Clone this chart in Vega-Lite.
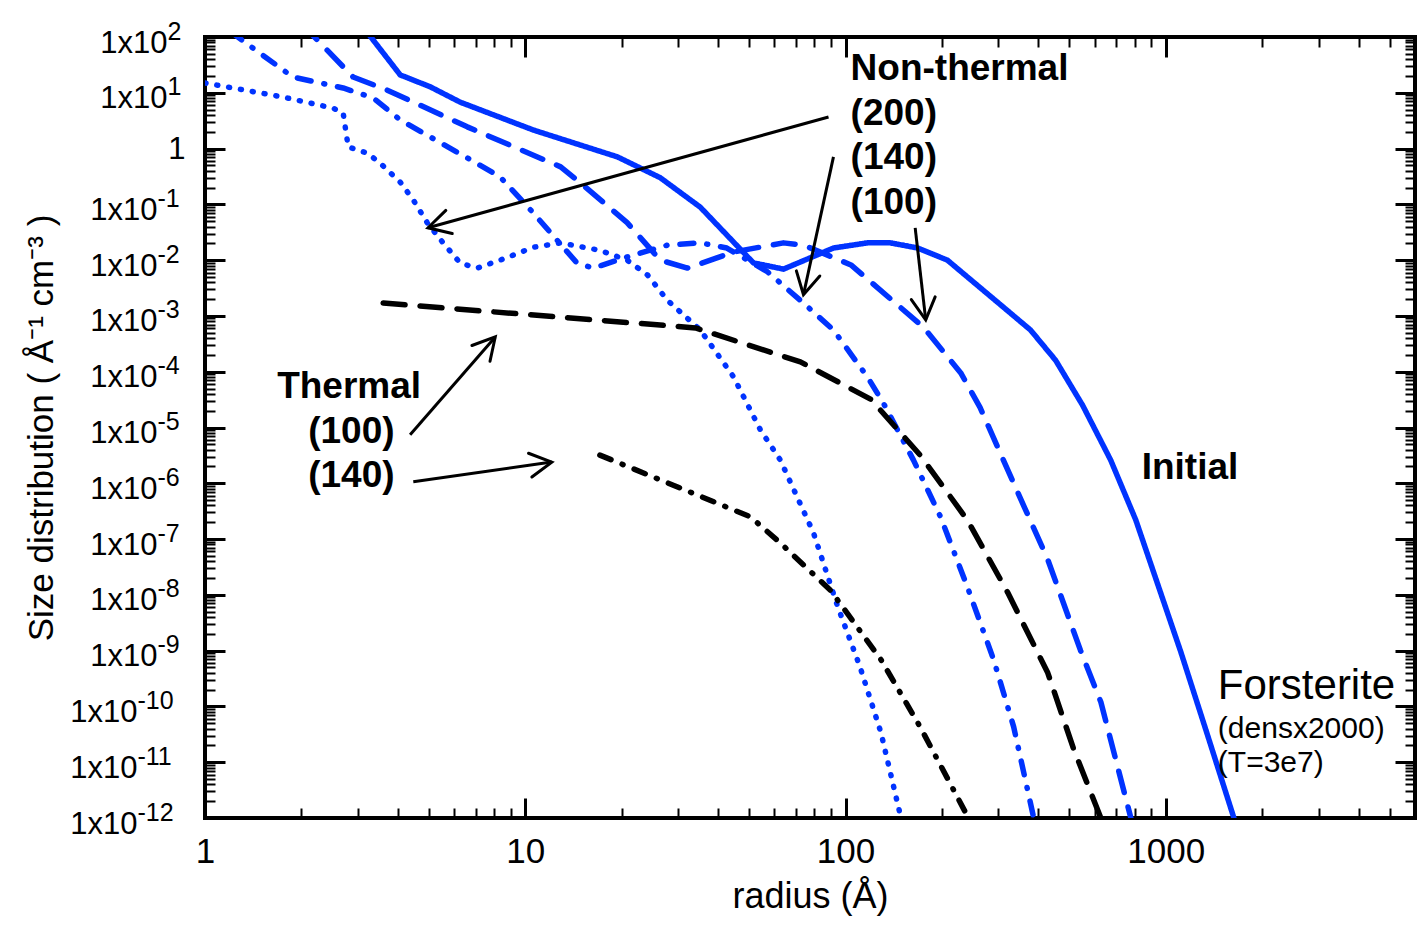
{
  "$schema": "https://vega.github.io/schema/vega-lite/v6.json",
  "autosize": {"type": "none"},
  "padding": {"left": 205, "top": 37, "right": 7, "bottom": 115},
  "width": 1210,
  "height": 781,
  "background": "white",
  "config": {
    "view": {"stroke": "black", "strokeWidth": 4},
    "font": "Liberation Sans",
    "axis": {"grid": false, "domain": false, "labelColor": "black", "titleColor": "black", "tickColor": "black", "labelFont": "Liberation Sans", "titleFont": "Liberation Sans", "titleFontWeight": "normal", "labelOverlap": false, "labelFlush": false}
  },
  "datasets": {
    "curves": [
      {"run": "initial", "radius": 3.0, "n": 200},
      {"run": "initial", "radius": 4.07, "n": 20.9},
      {"run": "initial", "radius": 5.05, "n": 12.8},
      {"run": "initial", "radius": 6.26, "n": 6.8},
      {"run": "initial", "radius": 10.6, "n": 2.15},
      {"run": "initial", "radius": 19.4, "n": 0.71},
      {"run": "initial", "radius": 26.4, "n": 0.30},
      {"run": "initial", "radius": 35.2, "n": 0.089},
      {"run": "initial", "radius": 51.6, "n": 0.0089},
      {"run": "initial", "radius": 64, "n": 0.0069},
      {"run": "initial", "radius": 91.7, "n": 0.0165},
      {"run": "initial", "radius": 117, "n": 0.0204},
      {"run": "initial", "radius": 138, "n": 0.0204},
      {"run": "initial", "radius": 168, "n": 0.0165},
      {"run": "initial", "radius": 208, "n": 0.010},
      {"run": "initial", "radius": 305, "n": 0.00158},
      {"run": "initial", "radius": 378, "n": 5.6e-4},
      {"run": "initial", "radius": 453, "n": 1.6e-4},
      {"run": "initial", "radius": 550, "n": 2.5e-5},
      {"run": "initial", "radius": 673, "n": 2.6e-6},
      {"run": "initial", "radius": 806, "n": 2.2e-7},
      {"run": "initial", "radius": 1114, "n": 9.5e-10},
      {"run": "initial", "radius": 1334, "n": 3.8e-11},
      {"run": "initial", "radius": 1632, "n": 1e-12},

      {"run": "nt100", "radius": 2.0, "n": 174},
      {"run": "nt100", "radius": 2.90, "n": 19.2},
      {"run": "nt100", "radius": 3.70, "n": 11.2},
      {"run": "nt100", "radius": 6.59, "n": 2.45},
      {"run": "nt100", "radius": 12.9, "n": 0.47},
      {"run": "nt100", "radius": 14.9, "n": 0.24},
      {"run": "nt100", "radius": 20.8, "n": 0.047},
      {"run": "nt100", "radius": 26.4, "n": 0.010},
      {"run": "nt100", "radius": 32.1, "n": 0.0072},
      {"run": "nt100", "radius": 44.7, "n": 0.014},
      {"run": "nt100", "radius": 64, "n": 0.0204},
      {"run": "nt100", "radius": 73.9, "n": 0.0186},
      {"run": "nt100", "radius": 104, "n": 0.0082},
      {"run": "nt100", "radius": 175, "n": 6.3e-4},
      {"run": "nt100", "radius": 229, "n": 9.5e-5},
      {"run": "nt100", "radius": 263, "n": 2.3e-5},
      {"run": "nt100", "radius": 335, "n": 1e-6},
      {"run": "nt100", "radius": 428, "n": 4.3e-8},
      {"run": "nt100", "radius": 542, "n": 1e-9},
      {"run": "nt100", "radius": 627, "n": 1.2e-10},
      {"run": "nt100", "radius": 778, "n": 1e-12},

      {"run": "nt140", "radius": 1.2, "n": 126},
      {"run": "nt140", "radius": 1.33, "n": 81},
      {"run": "nt140", "radius": 1.88, "n": 19.2},
      {"run": "nt140", "radius": 2.70, "n": 12.2},
      {"run": "nt140", "radius": 3.35, "n": 8.1},
      {"run": "nt140", "radius": 4.07, "n": 3.26},
      {"run": "nt140", "radius": 6.59, "n": 0.68},
      {"run": "nt140", "radius": 8.35, "n": 0.31},
      {"run": "nt140", "radius": 10.6, "n": 0.07},
      {"run": "nt140", "radius": 14.5, "n": 0.0089},
      {"run": "nt140", "radius": 16.3, "n": 0.0072},
      {"run": "nt140", "radius": 20.8, "n": 0.0114},
      {"run": "nt140", "radius": 27.8, "n": 0.0186},
      {"run": "nt140", "radius": 35.2, "n": 0.0204},
      {"run": "nt140", "radius": 42.6, "n": 0.0165},
      {"run": "nt140", "radius": 57, "n": 0.0062},
      {"run": "nt140", "radius": 73.9, "n": 0.0017},
      {"run": "nt140", "radius": 91.7, "n": 5.6e-4},
      {"run": "nt140", "radius": 117, "n": 8.1e-5},
      {"run": "nt140", "radius": 131, "n": 2.8e-5},
      {"run": "nt140", "radius": 163, "n": 2.6e-6},
      {"run": "nt140", "radius": 198, "n": 2.5e-7},
      {"run": "nt140", "radius": 240, "n": 1.4e-8},
      {"run": "nt140", "radius": 290, "n": 6.9e-10},
      {"run": "nt140", "radius": 335, "n": 4.3e-11},
      {"run": "nt140", "radius": 387, "n": 1e-12},

      {"run": "nt200", "radius": 1.0, "n": 15},
      {"run": "nt200", "radius": 1.22, "n": 12.2},
      {"run": "nt200", "radius": 1.75, "n": 8.4},
      {"run": "nt200", "radius": 2.51, "n": 5.3},
      {"run": "nt200", "radius": 2.70, "n": 4.35},
      {"run": "nt200", "radius": 2.80, "n": 1.07},
      {"run": "nt200", "radius": 3.21, "n": 0.83},
      {"run": "nt200", "radius": 3.52, "n": 0.55},
      {"run": "nt200", "radius": 4.07, "n": 0.25},
      {"run": "nt200", "radius": 4.47, "n": 0.12},
      {"run": "nt200", "radius": 4.94, "n": 0.047},
      {"run": "nt200", "radius": 5.54, "n": 0.0204},
      {"run": "nt200", "radius": 6.26, "n": 0.0089},
      {"run": "nt200", "radius": 7.08, "n": 0.0072},
      {"run": "nt200", "radius": 8.35, "n": 0.010},
      {"run": "nt200", "radius": 10.6, "n": 0.017},
      {"run": "nt200", "radius": 12.9, "n": 0.0204},
      {"run": "nt200", "radius": 17.1, "n": 0.015},
      {"run": "nt200", "radius": 20.8, "n": 0.010},
      {"run": "nt200", "radius": 24.1, "n": 0.0054},
      {"run": "nt200", "radius": 27.8, "n": 0.0019},
      {"run": "nt200", "radius": 35.2, "n": 5.6e-4},
      {"run": "nt200", "radius": 44.7, "n": 8.1e-5},
      {"run": "nt200", "radius": 54.2, "n": 9.1e-6},
      {"run": "nt200", "radius": 62.6, "n": 2.6e-6},
      {"run": "nt200", "radius": 79.4, "n": 1.3e-7},
      {"run": "nt200", "radius": 94.4, "n": 6.3e-9},
      {"run": "nt200", "radius": 111, "n": 5.1e-10},
      {"run": "nt200", "radius": 129, "n": 3.4e-11},
      {"run": "nt200", "radius": 149, "n": 1e-12},

      {"run": "th100", "radius": 3.60, "n": 1.7e-3},
      {"run": "th100", "radius": 34, "n": 6.1e-4},
      {"run": "th100", "radius": 72.3, "n": 1.5e-4},
      {"run": "th100", "radius": 120, "n": 3.2e-5},
      {"run": "th100", "radius": 171, "n": 3.2e-6},
      {"run": "th100", "radius": 240, "n": 2.2e-7},
      {"run": "th100", "radius": 321, "n": 1.1e-8},
      {"run": "th100", "radius": 428, "n": 4e-10},
      {"run": "th100", "radius": 516, "n": 1.7e-11},
      {"run": "th100", "radius": 627, "n": 1e-12},

      {"run": "th140", "radius": 17.1, "n": 3.2e-6},
      {"run": "th140", "radius": 50.5, "n": 2.5e-7},
      {"run": "th140", "radius": 62.6, "n": 8.5e-8},
      {"run": "th140", "radius": 89.8, "n": 1.2e-8},
      {"run": "th140", "radius": 129, "n": 6.9e-10},
      {"run": "th140", "radius": 171, "n": 4.3e-11},
      {"run": "th140", "radius": 242, "n": 1e-12}
    ],
    "arrows": [
      {"x1": 88.5, "y1": 3.68, "x2": 4.97, "y2": 0.038},
      {"x1": 91.7, "y1": 0.71, "x2": 73.9, "y2": 0.0024},
      {"x1": 165, "y1": 0.038, "x2": 178, "y2": 8.5e-4},
      {"x1": 4.37, "y1": 7.4e-6, "x2": 8.06, "y2": 4.2e-4},
      {"x1": 4.47, "y1": 1.07e-6, "x2": 12.1, "y2": 2.4e-6}
    ],
    "boldLabels": [
      {"text": "Non-thermal", "x": 103.7, "y": 26.7},
      {"text": "(200)", "x": 103.7, "y": 4.17},
      {"text": "(140)", "x": 103.7, "y": 0.679},
      {"text": "(100)", "x": 103.7, "y": 0.106},
      {"text": "Thermal", "x": 1.68, "y": 5.34e-5},
      {"text": "(100)", "x": 2.10, "y": 8.3e-6},
      {"text": "(140)", "x": 2.10, "y": 1.36e-6},
      {"text": "Initial", "x": 841, "y": 1.89e-6}
    ],
    "material": [
      {"text": "Forsterite", "x": 1454, "y": 2.34e-10}
    ],
    "notes": [
      {"text": "(densx2000)", "x": 1454, "y": 3.95e-11},
      {"text": "(T=3e7)", "x": 1454, "y": 9.8e-12}
    ]
  },
  "resolve": {"axis": {"x": "independent", "y": "independent"}},
  "layer": [
    {
      "data": {"name": "curves"},
      "mark": {"type": "line", "clip": true, "strokeWidth": 5.5, "strokeCap": "round", "strokeJoin": "round"},
      "encoding": {
        "x": {
          "field": "radius", "type": "quantitative",
          "scale": {"type": "log", "domain": [1, 6000], "nice": false},
          "axis": {"orient": "bottom", "values": [1, 10, 100, 1000], "format": "d", "ticks": false, "labelPadding": 16, "labelFontSize": 35, "title": "radius (Å)", "titleFontSize": 36, "titlePadding": 10}
        },
        "y": {
          "field": "n", "type": "quantitative",
          "scale": {"type": "log", "domain": [1e-12, 100], "nice": false},
          "axis": {
            "orient": "left",
            "values": [1e-12, 1e-11, 1e-10, 1e-9, 1e-8, 1e-7, 1e-6, 1e-5, 1e-4, 1e-3, 1e-2, 1e-1, 1, 10, 100],
            "ticks": false, "labelFontSize": 31, "labelAlign": "right", "labelBaseline": "middle",
            "labelExpr": "datum.value == 1 ? '1' : '1x10'",
            "labelPadding": {"condition": [{"test": "datum.value == 1", "value": 20}, {"test": "datum.value > 1", "value": 38}, {"test": "datum.value >= 1e-9", "value": 48}], "value": 68},
            "labelOffset": {"condition": {"test": "datum.value == 1", "value": 1}, "value": 6},
            "title": "Size distribution ( Å⁻¹ cm⁻³ )", "titleFontSize": 35, "titlePadding": 10
          }
        },
        "detail": {"field": "run"},
        "color": {
          "field": "run", "type": "nominal", "legend": null,
          "scale": {"domain": ["initial", "nt100", "nt140", "nt200", "th100", "th140"], "range": ["#0033ff", "#0033ff", "#0033ff", "#0033ff", "#000000", "#000000"]}
        },
        "strokeDash": {
          "field": "run", "type": "nominal", "legend": null,
          "scale": {"domain": ["initial", "nt100", "nt140", "nt200", "th100", "th140"], "range": [[1, 0], [22, 15], [14, 13, 1, 13], [1, 11], [22, 15], [12, 12, 1, 12]]}
        }
      }
    },
    {
      "data": {"name": "arrows"},
      "mark": {"type": "rule", "color": "black", "strokeWidth": 3, "clip": true},
      "encoding": {
        "x": {"field": "x1", "type": "quantitative", "axis": {"orient": "bottom", "values": [1, 10, 100, 1000], "labels": false, "tickSize": -20, "tickWidth": 3, "title": null}},
        "y": {"field": "y1", "type": "quantitative", "axis": {"orient": "left", "values": [1e-12, 1e-11, 1e-10, 1e-9, 1e-8, 1e-7, 1e-6, 1e-5, 1e-4, 1e-3, 1e-2, 1e-1, 1, 10, 100], "labels": false, "tickSize": -20, "tickWidth": 3, "title": null}},
        "x2": {"field": "x2"},
        "y2": {"field": "y2"}
      }
    },
    {
      "data": {"name": "arrows"},
      "transform": [
        {"calculate": "atan2(320.3 * log(datum.x2 / datum.x1) / LN10, 55.79 * log(datum.y2 / datum.y1) / LN10) * 180 / PI", "as": "heading"}
      ],
      "mark": {"type": "point", "shape": "M-0.55,1L0,0L0.55,1", "filled": false, "color": "black", "strokeWidth": 3, "opacity": 1, "size": 1900, "strokeJoin": "miter", "strokeCap": "round"},
      "encoding": {
        "x": {"field": "x2", "type": "quantitative", "axis": {"orient": "top", "values": [1, 10, 100, 1000], "labels": false, "tickSize": -20, "tickWidth": 3, "title": null}},
        "y": {"field": "y2", "type": "quantitative", "axis": {"orient": "right", "values": [1e-12, 1e-11, 1e-10, 1e-9, 1e-8, 1e-7, 1e-6, 1e-5, 1e-4, 1e-3, 1e-2, 1e-1, 1, 10, 100], "labels": false, "tickSize": -20, "tickWidth": 3, "title": null}},
        "angle": {"field": "heading", "type": "quantitative", "scale": null}
      }
    },
    {
      "data": {"name": "boldLabels"},
      "mark": {"type": "text", "align": "left", "baseline": "middle", "font": "Liberation Sans", "fontWeight": "bold", "fontSize": 37, "color": "black"},
      "encoding": {
        "x": {"field": "x", "type": "quantitative", "axis": {"orient": "bottom", "values": [2, 3, 4, 5, 6, 7, 8, 9, 20, 30, 40, 50, 60, 70, 80, 90, 200, 300, 400, 500, 600, 700, 800, 900, 2000, 3000, 4000, 5000], "labels": false, "tickSize": -10, "tickWidth": 2, "title": null}},
        "y": {"field": "y", "type": "quantitative", "axis": {"orient": "left", "values": [2e-12, 3e-12, 4e-12, 5e-12, 6e-12, 7e-12, 8e-12, 9e-12, 2e-11, 3e-11, 4e-11, 5e-11, 6e-11, 7e-11, 8e-11, 9e-11, 2e-10, 3e-10, 4e-10, 5e-10, 6e-10, 7e-10, 8e-10, 9e-10, 2e-9, 3e-9, 4e-9, 5e-9, 6e-9, 7e-9, 8e-9, 9e-9, 2e-8, 3e-8, 4e-8, 5e-8, 6e-8, 7e-8, 8e-8, 9e-8, 2e-7, 3e-7, 4e-7, 5e-7, 6e-7, 7e-7, 8e-7, 9e-7, 2e-6, 3e-6, 4e-6, 5e-6, 6e-6, 7e-6, 8e-6, 9e-6, 2e-5, 3e-5, 4e-5, 5e-5, 6e-5, 7e-5, 8e-5, 9e-5, 2e-4, 3e-4, 4e-4, 5e-4, 6e-4, 7e-4, 8e-4, 9e-4, 2e-3, 3e-3, 4e-3, 5e-3, 6e-3, 7e-3, 8e-3, 9e-3, 2e-2, 3e-2, 4e-2, 5e-2, 6e-2, 7e-2, 8e-2, 9e-2, 0.2, 0.3, 0.4, 0.5, 0.6, 0.7, 0.8, 0.9, 2, 3, 4, 5, 6, 7, 8, 9, 20, 30, 40, 50, 60, 70, 80, 90], "labels": false, "tickSize": -10, "tickWidth": 2, "title": null}},
        "text": {"field": "text"}
      }
    },
    {
      "data": {"name": "material"},
      "mark": {"type": "text", "align": "left", "baseline": "middle", "font": "Liberation Sans", "fontSize": 42, "color": "black"},
      "encoding": {
        "x": {"field": "x", "type": "quantitative", "axis": {"orient": "top", "values": [2, 3, 4, 5, 6, 7, 8, 9, 20, 30, 40, 50, 60, 70, 80, 90, 200, 300, 400, 500, 600, 700, 800, 900, 2000, 3000, 4000, 5000], "labels": false, "tickSize": -10, "tickWidth": 2, "title": null}},
        "y": {"field": "y", "type": "quantitative", "axis": {"orient": "right", "values": [2e-12, 3e-12, 4e-12, 5e-12, 6e-12, 7e-12, 8e-12, 9e-12, 2e-11, 3e-11, 4e-11, 5e-11, 6e-11, 7e-11, 8e-11, 9e-11, 2e-10, 3e-10, 4e-10, 5e-10, 6e-10, 7e-10, 8e-10, 9e-10, 2e-9, 3e-9, 4e-9, 5e-9, 6e-9, 7e-9, 8e-9, 9e-9, 2e-8, 3e-8, 4e-8, 5e-8, 6e-8, 7e-8, 8e-8, 9e-8, 2e-7, 3e-7, 4e-7, 5e-7, 6e-7, 7e-7, 8e-7, 9e-7, 2e-6, 3e-6, 4e-6, 5e-6, 6e-6, 7e-6, 8e-6, 9e-6, 2e-5, 3e-5, 4e-5, 5e-5, 6e-5, 7e-5, 8e-5, 9e-5, 2e-4, 3e-4, 4e-4, 5e-4, 6e-4, 7e-4, 8e-4, 9e-4, 2e-3, 3e-3, 4e-3, 5e-3, 6e-3, 7e-3, 8e-3, 9e-3, 2e-2, 3e-2, 4e-2, 5e-2, 6e-2, 7e-2, 8e-2, 9e-2, 0.2, 0.3, 0.4, 0.5, 0.6, 0.7, 0.8, 0.9, 2, 3, 4, 5, 6, 7, 8, 9, 20, 30, 40, 50, 60, 70, 80, 90], "labels": false, "tickSize": -10, "tickWidth": 2, "title": null}},
        "text": {"field": "text"}
      }
    },
    {
      "data": {"name": "notes"},
      "mark": {"type": "text", "align": "left", "baseline": "middle", "font": "Liberation Sans", "fontSize": 30, "color": "black"},
      "encoding": {
        "x": {"field": "x", "type": "quantitative", "axis": null},
        "y": {
          "field": "y", "type": "quantitative",
          "axis": {
            "orient": "left",
            "values": [1e-12, 1e-11, 1e-10, 1e-9, 1e-8, 1e-7, 1e-6, 1e-5, 1e-4, 1e-3, 1e-2, 1e-1, 10, 100],
            "ticks": false, "labelFontSize": 25, "labelAlign": "left", "labelBaseline": "middle",
            "labelExpr": "(datum.value < 1 ? '-' : '') + abs(round(log(datum.value) / LN10))",
            "labelPadding": {"condition": [{"test": "datum.value > 1", "value": 38}, {"test": "datum.value >= 1e-9", "value": 48}], "value": 68},
            "labelOffset": -6,
            "title": null
          }
        },
        "text": {"field": "text"}
      }
    }
  ]
}
